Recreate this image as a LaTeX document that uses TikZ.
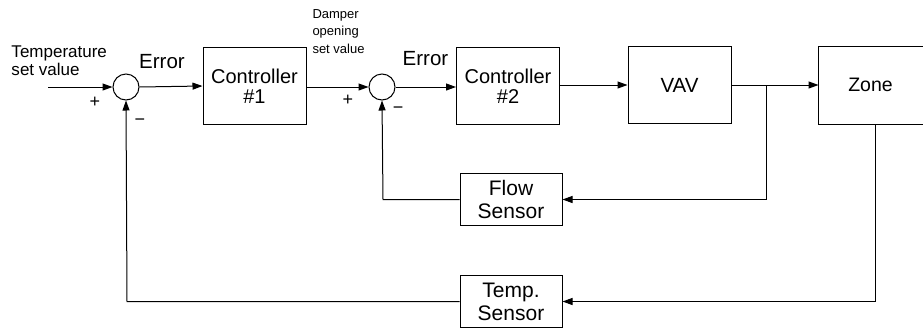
\documentclass[tikz,border=0pt]{standalone}
\usepackage{fontspec}
\setmainfont{Liberation Sans}
\usetikzlibrary{arrows.meta}
\begin{document}
\begin{tikzpicture}[x=1pt,y=-1pt,
  line width=1pt,
  blk/.style={draw,line width=1pt,minimum width=103pt,minimum height=77pt,inner sep=0pt,align=center,font=\fontsize{20}{18}\selectfont},
  sens/.style={draw,line width=1pt,minimum width=102pt,minimum height=52pt,inner sep=0pt,align=center,font=\fontsize{21}{23}\selectfont},
  sumc/.style={draw,circle,line width=1pt,minimum size=26pt,inner sep=0pt},
  sig/.style={font=\fontsize{18}{18}\selectfont,inner sep=0pt},
  lbl/.style={font=\fontsize{17}{18}\selectfont,inner sep=0pt,align=left},
  err/.style={font=\fontsize{20.5}{20}\selectfont,inner sep=0pt},
  arr/.style={-{Triangle[length=10pt,width=7pt]}}
]
\useasboundingbox (0,0) rectangle (923,330);
\fill[white] (0,0) rectangle (923,330);

\node[sumc] (s1) at (126,87) {};
\node[sumc] (s2) at (382,87) {};
\node[blk] (c1) at (254.5,86) {Controller\\[2pt]\#1};
\node[blk] (c2) at (508,86) {Controller\\[2pt]\#2};
\node[blk,font=\fontsize{20.5}{20}\selectfont] (vav) at (679.5,85) {VAV};
\node[blk,draw=none,font=\fontsize{19.5}{20}\selectfont] (zone) at (870.5,85) {Zone};
\draw ([xshift=10pt]zone.north east) -- (zone.north west) -- (zone.south west) -- ([xshift=10pt]zone.south east);
\node[sens] (fs) at (511,199.5) {Flow\\Sensor};
\node[sens] (ts) at (511,301.5) {Temp.\\Sensor};

\coordinate (in) at (48,87);
\coordinate (br) at (766,85);
\coordinate (fsr) at (766,199.5);
\coordinate (fsl) at (383,199.5);
\coordinate (zr) at (875,301.5);
\coordinate (tsl) at (127,301.5);

% texts
\node[lbl,anchor=base west] (t1) at (11,57) {Temperature};
\node[lbl,anchor=base west] (t2) at (11,75) {set value};
\node[err,anchor=base] (e1) at (162,68) {Error};
\node[err,anchor=base] (e2) at (425.5,65) {Error};
\node[font=\fontsize{13}{17.5}\selectfont,anchor=north west,align=left,inner sep=0pt] (dp) at (312,9) {Damper\\opening\\set value};
\node[sig] (p1) at (95,102) {+};
\node[sig] (m1) at (140,122) {\textminus};
\node[sig] (p2) at (348,100) {+};
\node[sig] (m2) at (398,110) {\textminus};

% forward path
\draw[arr] (in) -- (s1.west);
\draw[arr] (s1.east) -- (c1.west);
\draw[arr] (c1.east |- s2.west) -- (s2.west);
\draw[arr] (s2.east) -- (s2.east -| c2.west);
\draw[arr] (c2.east |- vav.west) -- (vav.west);
\draw[arr] (vav.east) -- (zone.west);

% flow loop
\draw[arr] (br) -- (fsr) -- (fs.east);
\draw[arr] (fs.west) -- (fsl) -- (s2.south);

% temp loop
\draw[arr] (zone.south -| zr) -- (zr) -- (ts.east);
\draw[arr] (ts.west) -- (tsl) -- (s1.south);
\end{tikzpicture}
\end{document}
